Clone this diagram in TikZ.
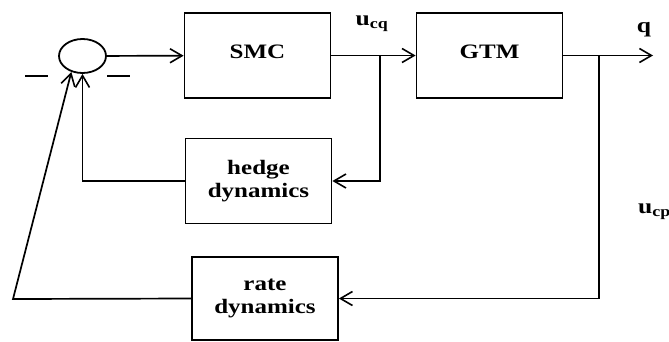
\documentclass[tikz,border=0pt]{standalone}
\usepackage{fontspec}
\setmainfont{Liberation Serif}[FakeStretch=1.22]
\usetikzlibrary{shapes.geometric,arrows.meta}

\tikzset{
	block/.style={draw,line width=1.8pt,minimum width=146pt,minimum height=85pt,inner sep=0pt,align=center,font=\fontsize{20.5}{23}\selectfont\bfseries},
	sig/.style={font=\fontsize{21}{21}\selectfont\bfseries,inner sep=0pt},
	wire/.style={line width=1.7pt},
	arr/.style={wire,-{Straight Barb[length=12pt,width=14pt,line width=1.6pt]}}
}

\begin{document}
\begin{tikzpicture}[x=1pt,y=-1pt]
		\useasboundingbox (0,0) rectangle (669,341);
		\node (sum) at (82.5,56)[draw,ellipse,line width=1.8pt,minimum width=47pt,minimum height=34pt,inner sep=0pt]{} ;
		\node (minusL) at (36.5,76)[inner sep=0pt]{\rule{23pt}{1.4pt}} ;
		\node (minusR) at (118.5,76)[inner sep=0pt]{\rule{23pt}{1.4pt}} ;
		\node (smc) at (257.5,55.5)[block]{\raisebox{7pt}{SMC}} ;
		\node (gtm) at (489.5,55.5)[block]{\raisebox{8pt}{GTM}} ;
		\node (hedge) at (258.5,181)[block]{hedge\\dynamics} ;
		\node (rate) at (265,298.5)[block,minimum height=83pt]{rate\\dynamics} ;
		\node (ucq) at (372,24)[sig]{u\textsubscript{cq}} ;
		\node (q) at (644,30)[sig]{q} ;
		\node (ucp) at (638,212)[sig,anchor=west]{u\textsubscript{cp}} ;
		\coordinate (b1) at (380,55.5) ;
		\coordinate (b2) at (599,55.5) ;
		\coordinate (qend) at (653,55.5) ;
		\coordinate (corner) at (13,299) ;
		% forward path
		\draw[arr] (sum) -- (smc) ;
		\draw[arr] (smc) -- (gtm) ;
		\draw[arr] (gtm) -- (qend) ;
		% hedge loop
		\draw[arr] (b1) |- (hedge.east) ;
		\draw[arr] (hedge.west) -| (sum.south) ;
		% rate loop
		\draw[arr] (b2) |- (rate.east) ;
		\draw[arr] (rate.west) -- (corner) -- (sum.235) ;
\end{tikzpicture}
\end{document}
